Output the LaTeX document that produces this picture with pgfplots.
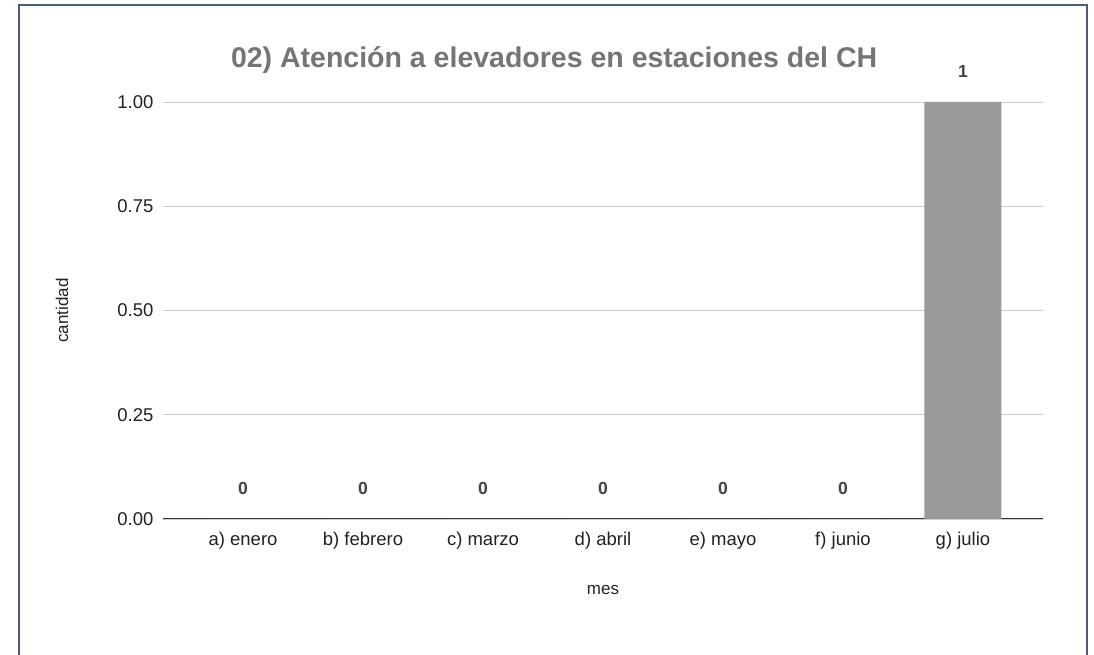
\documentclass[border=0pt]{standalone}
\usepackage{pgfplots}
\pgfplotsset{compat=1.18}
\usepackage{fontspec}
\setmainfont{Liberation Sans}
\definecolor{barc}{HTML}{999999}
\definecolor{titlec}{HTML}{757575}
\definecolor{framec}{HTML}{4B5B7A}
\definecolor{gridc}{HTML}{CCCCCC}
\definecolor{txt}{HTML}{222222}
\definecolor{valc}{HTML}{444444}
\begin{document}
\begin{tikzpicture}[x=1pt,y=1pt]
\path[use as bounding box] (0,0) rectangle (1094,655);
\draw[framec, line width=2pt] (19,0) -- (19,650) -- (1087,650) -- (1087,0);
\begin{axis}[
  at={(163pt,136pt)}, anchor=south west,
  scale only axis, width=880pt, height=417pt,
  xmin=-0.667, xmax=6.667, ymin=0, ymax=1,
  axis x line*=bottom, axis y line*=left,
  x axis line style={draw=black!80, line width=1pt, -},
  y axis line style={draw=none},
  xtick=data,
  xticklabels={a) enero, b) febrero, c) marzo, d) abril, e) mayo, f) junio, g) julio},
  ytick={0,0.25,0.5,0.75,1},
  ymajorgrids, grid style={gridc, line width=0.8pt},
  major tick length=0pt,
  /pgf/number format/assume math mode=true,
  yticklabel={\pgfmathprintnumber[fixed,fixed zerofill,precision=2]{\tick}},
  yticklabel style={font=\fontsize{18.5}{21}\selectfont, text=txt, xshift=-6pt},
  xticklabel style={font=\fontsize{18.5}{21}\selectfont, text=txt, yshift=-10pt},
  title={\bfseries 02) Atención a elevadores en estaciones del CH},
  title style={font=\fontsize{28.5}{32}\selectfont, text=titlec, at={(0.4445,1)}, anchor=base, yshift=28pt},
  xlabel={mes},
  xlabel style={font=\fontsize{17}{20}\selectfont, text=txt, at={(0.5,0)}, anchor=center, yshift=-71pt},
  ylabel={cantidad},
  every axis y label/.style={at={(-101pt,208.5pt)}, rotate=90, anchor=center, font=\fontsize{17}{20}\selectfont, text=txt},
  clip=false,
]
\addplot[ybar, bar width=77pt, fill=barc, draw=none,
  nodes near coords, point meta=explicit symbolic,
  every node near coord/.style={font=\bfseries\fontsize{17.5}{20}\selectfont, text=valc, anchor=base, yshift=24pt}]
  coordinates {(0,0)[0] (1,0)[0] (2,0)[0] (3,0)[0] (4,0)[0] (5,0)[0] (6,1)[1]};
\end{axis}
\end{tikzpicture}
\end{document}
